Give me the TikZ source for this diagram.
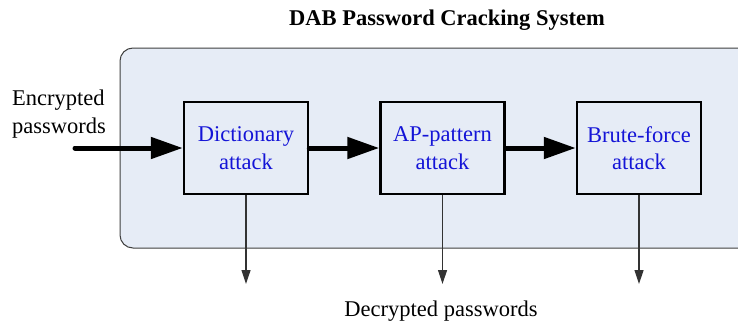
\documentclass[tikz,border=0pt]{standalone}
\usepackage{fontspec}
\setmainfont{Liberation Serif}
\usetikzlibrary{arrows.meta,positioning}
\definecolor{panelblue}{RGB}{230,236,246}
\definecolor{labelblue}{RGB}{20,20,215}
\tikzset{
    panel/.style =  {rectangle,
                    rounded corners=13pt,
                    fill=panelblue,
                    draw=black!75,
                    line width=1pt},
    attack/.style = {rectangle,
                    fill=panelblue,
                    draw=black,
                    text=labelblue,
                    line width=2.5pt,
                    align=center,
                    minimum width=124pt,
                    minimum height=92pt},
    plain/.style =  {text=black,
                    inner sep=0pt},
    -,
    bigarrow/.style = {line width=5pt,
                    line cap=round,
                    -{Triangle[length=32pt,width=21pt]}},
    outarrow/.style = {line width=1.2pt,
                    draw=black!80,
                    -{Triangle[length=14pt,width=9pt]}},
    every node/.style={font=\fontsize{22.5}{27.5}\selectfont},
    node distance=70pt}

\begin{document}
\begin{tikzpicture}[x=1pt,y=-1pt]
                \clip (0,0) rectangle (738,324);
                \fill[white] (0,0) rectangle (738,324);
                \draw[panel] (120,48) rectangle (780,248);

                \node[plain]        (title) at (447,20)              {\textbf{DAB Password Cracking System}};
                \node[attack]       (dict) at (246,148)              {Dictionary\\attack};
                \node[attack]       (ap) [right=of dict]             {AP-pattern\\attack};
                \node[attack]       (brute) [right=of ap]            {Brute-force\\attack};
                \node[plain,anchor=west,align=left] (enc) at (12,114) {Encrypted\\passwords};
                \node[plain]        (dec) at (441,311)               {Decrypted passwords};

                \coordinate (in) at (75,148);
                \coordinate (outline) at (0,284);

                \draw[bigarrow]  (in) -- (dict.west);
                \draw[bigarrow]  (dict.east) -- (ap.west);
                \draw[bigarrow]  (ap.east) -- (brute.west);

                \draw[outarrow]  (dict.south) -- (dict.south |- outline);
                \draw[outarrow]  (ap.south) -- (ap.south |- outline);
                \draw[outarrow]  (brute.south) -- (brute.south |- outline);
\end{tikzpicture}
\end{document}
